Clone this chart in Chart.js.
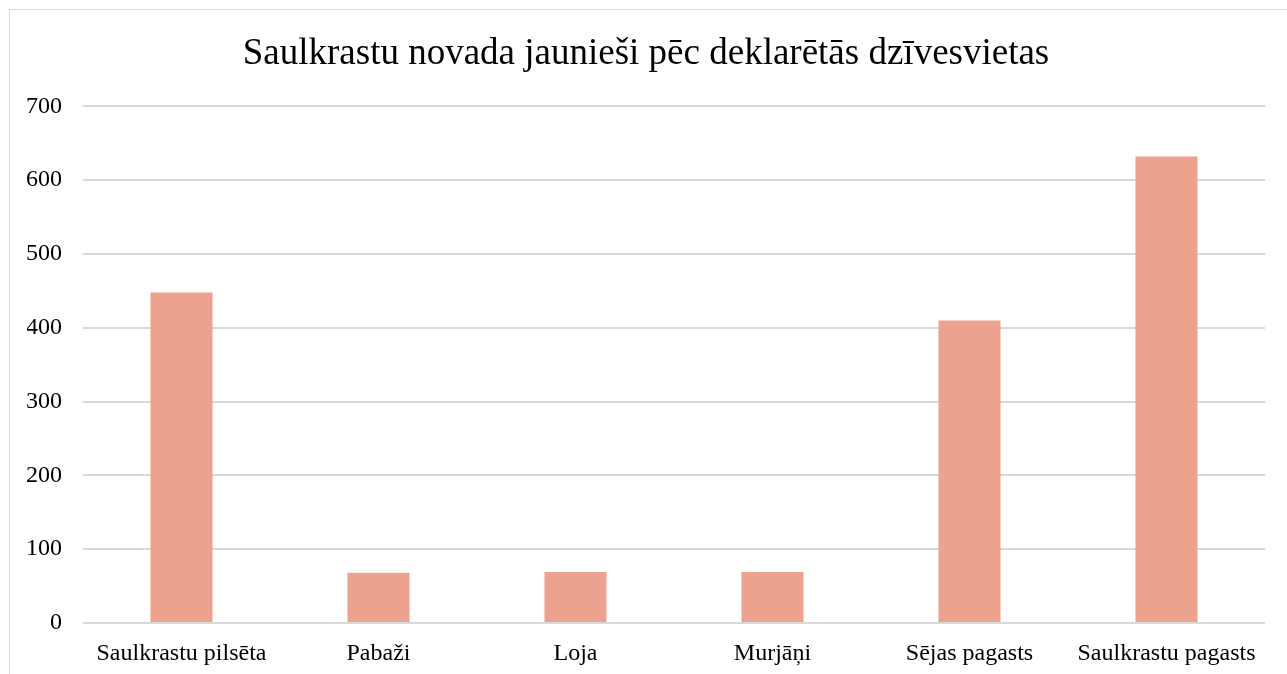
<!DOCTYPE html>
<html><head><meta charset="utf-8">
<script src="https://cdn.jsdelivr.net/npm/chart.js@4"></script>
<style>
html,body{margin:0;padding:0;background:#fff;overflow:hidden;}
#wrap{position:absolute;left:0;top:0;width:1287px;height:674px;}
#frame{position:absolute;left:9px;top:9px;width:1300px;height:700px;border:1px solid #d9d9d9;box-sizing:border-box;pointer-events:none;}
</style></head>
<body>
<div id="wrap"><canvas id="c" width="1287" height="674"></canvas><div id="frame"></div></div>
<script>
const categories = ["Saulkrastu pilsēta","Pabaži","Loja","Murjāņi","Sējas pagasts","Saulkrastu pagasts"];
const values = [448, 68, 69, 69, 410, 632];
const titleText = "Saulkrastu novada jaunieši pēc deklarētās dzīvesvietas";
const yMin = 0, yMax = 700, yStep = 100;

new Chart(document.getElementById('c'), {
  type: 'bar',
  data: { labels: categories, datasets: [{ data: values, backgroundColor: '#eca28f', borderWidth: 0, barPercentage: 0.315, categoryPercentage: 1.0 }] },
  options: {
    responsive: false, animation: false,
    layout: { padding: { left: 27, right: 22, top: 0, bottom: 0 } },
    plugins: {
      legend: { display: false }, tooltip: { enabled: false },
      title: { display: true, text: titleText, color: '#000', font: { family: 'Liberation Serif', size: 37, weight: 'normal' }, padding: { top: 32, bottom: 30 } }
    },
    scales: {
      x: {
        afterFit: (s) => { s.height = 51; },
        grid: { display: false, drawTicks: false },
        border: { display: false },
        ticks: { color: '#000', font: { family: 'Liberation Serif', size: 24 }, padding: 16, maxRotation: 0, autoSkip: false }
      },
      y: {
        min: yMin, max: yMax,
        afterFit: (s) => { s.width = 56; },
        grid: { color: '#d9d9d9', lineWidth: 2, drawTicks: false },
        border: { display: false },
        ticks: { stepSize: yStep, color: '#000', font: { family: 'Liberation Serif', size: 24 }, padding: 21 }
      }
    }
  }
});
</script>
</body></html>
